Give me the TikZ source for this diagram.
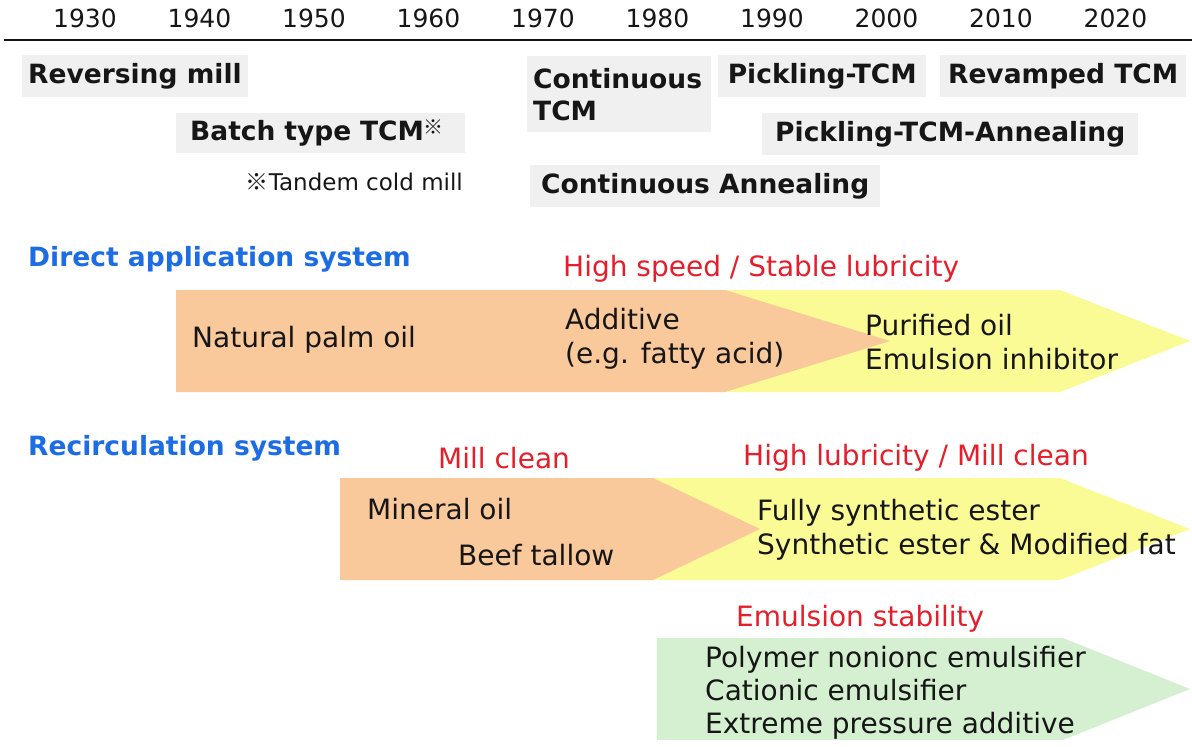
\documentclass[tikz,border=0pt]{standalone}
\usepackage{fontspec}
\setmainfont{DejaVu Sans}
\newfontfamily\refmark{Noto Sans CJK JP}
\usepackage{tikz}
\usetikzlibrary{positioning,calc}
\definecolor{ink}{RGB}{22,22,22}
\definecolor{boxgray}{RGB}{240,240,240}
\definecolor{sysblue}{RGB}{28,108,228}
\definecolor{needred}{RGB}{228,30,42}
\definecolor{oilorange}{RGB}{249,200,155}
\definecolor{oilyellow}{RGB}{251,251,150}
\definecolor{oilgreen}{RGB}{213,240,209}

\begin{document}
\begin{tikzpicture}[x=1pt,y=-1pt,
    yearlbl/.style={text=ink,inner sep=0pt,font=\fontsize{25}{30}\selectfont},
    period/.style={fill=boxgray,text=ink,anchor=west,inner xsep=6pt,
      inner ysep=0pt,minimum height=42pt,
      font=\bfseries\fontsize{26.5}{32}\selectfont},
    syslbl/.style={text=sysblue,anchor=west,inner sep=0pt,
      font=\bfseries\fontsize{26.5}{32}\selectfont},
    needlbl/.style={text=needred,anchor=west,inner sep=0pt,
      font=\fontsize{28}{34}\selectfont},
    itemtxt/.style={text=ink,anchor=west,inner sep=0pt,align=left,
      font=\fontsize{28}{34}\selectfont}]
  \useasboundingbox (0,0) rectangle (1192,747);

  \foreach \yr [count=\i from 0] in {1930,1940,1950,1960,1970,1980,1990,2000,2010,2020}
    \node[yearlbl] (y\yr) at ({85+114.5*\i},18) {\yr};
  \coordinate (axisL) at (4,40);
  \coordinate (axisR) at (1192,40);
  \draw[ink,line width=2pt] (axisL) -- (axisR);

  \node[period,minimum width=224pt] (revmill) at (22,76) {Reversing mill};
  \node[period,minimum width=289pt,minimum height=40pt,align=left,text width=277pt]
    (batch) at (176,133)
    {\hspace*{8pt}Batch type TCM{\refmark\fontsize{20}{22}\selectfont\raisebox{6pt}{※}}};
  \node[itemtxt,anchor=east,font=\fontsize{23}{28}\selectfont] (tcmnote) at (463,182)
    {{\refmark ※}Tandem cold mill};
  \node[period,anchor=north west,text width=172pt,align=left,inner ysep=6pt,
    minimum height=76pt] (conttcm) at (527,56) {Continuous\\TCM};
  \node[period,minimum width=208pt] (pickl) at (718,76) {Pickling-TCM};
  \node[period,minimum width=246pt] (revamp) at (940,76) {Revamped TCM};
  \node[period,minimum width=376pt] (picklann) at (762,134) {Pickling-TCM-Annealing};
  \node[period,minimum width=350pt] (contann) at (530,186) {Continuous Annealing};

  \node[syslbl] (sysdirect) at (28,259) {Direct application system};
  \node[syslbl] (sysrecirc) at (28,448) {Recirculation system};

  \fill[oilyellow] (700,290) -- (1060,290) -- (1190,341) -- (1060,392) -- (700,392) -- cycle;
  \fill[oilorange] (176,290) -- (725,290) -- (890,341) -- (725,392) -- (176,392) -- cycle;
  \fill[oilyellow] (640,478) -- (1060,478) -- (1190,529) -- (1060,580) -- (640,580) -- cycle;
  \fill[oilorange] (340,478) -- (653,478) -- (760,529) -- (653,580) -- (340,580) -- cycle;
  \fill[oilgreen] (657,638) -- (1063,638) -- (1190,689) -- (1063,740) -- (657,740) -- cycle;

  \node[needlbl] (speed) at (563,269) {High speed / Stable lubricity};
  \node[needlbl] (millclean) at (438,458) {Mill clean};
  \node[needlbl] (lubclean) at (743,458) {High lubricity / Mill clean};
  \node[needlbl] (emulstab) at (736,619) {Emulsion stability};

  \node[itemtxt] (palm) at (192,340) {Natural palm oil};
  \node[itemtxt] (additive) at (565,339) {Additive\\(e.g. fatty acid)};
  \node[itemtxt] (purified) at (865,342) {Purified oil\\Emulsion inhibitor};
  \node[itemtxt] (mineral) at (367,509) {Mineral oil};
  \node[itemtxt] (tallow) at (458,555) {Beef tallow};
  \node[itemtxt] (ester) at (757,530) {Fully synthetic ester\\Synthetic ester \& Modified fat};
  \node[itemtxt,font=\fontsize{28}{33}\selectfont] (emulsifier) at (705,693)
    {Polymer nonionc emulsifier\\Cationic emulsifier\\Extreme pressure additive};
\end{tikzpicture}
\end{document}
